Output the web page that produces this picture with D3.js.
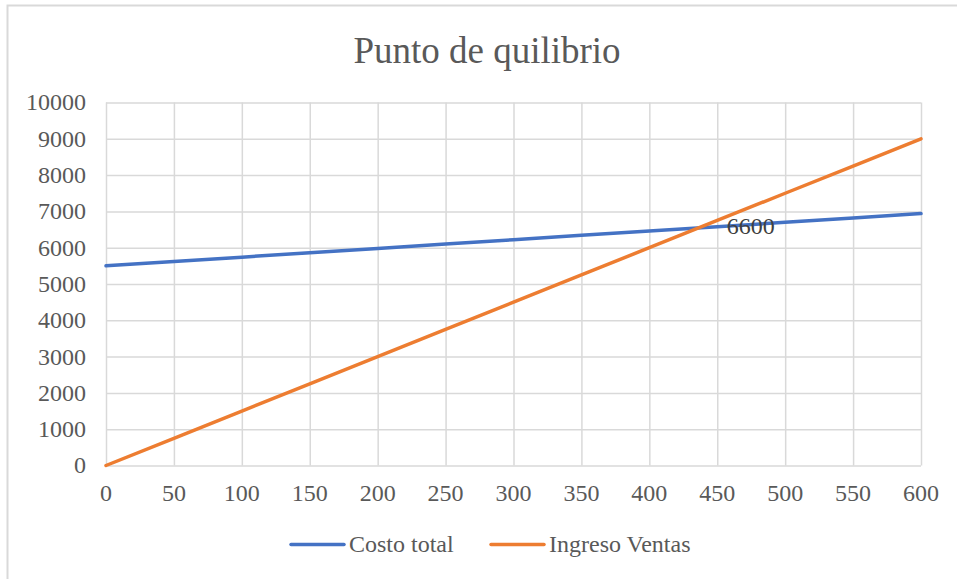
<!DOCTYPE html>
<html>
<head>
<meta charset="utf-8">
<title>Punto de quilibrio</title>
<script src="https://d3js.org/d3.v7.min.js"></script>
<style>
  body { margin: 0; background: #fff; }
  svg { display: block; font-family: "Liberation Serif", "Times New Roman", serif; }
  .grid line { stroke: #d9d9d9; stroke-width: 1.5px; }
  .grid path { display: none; }
  .tick-label { fill: #595959; font-size: 24px; }
  .serie { fill: none; stroke-width: 3.5px; stroke-linecap: round; }
</style>
</head>
<body>
<script>
// data
var unidades = [0, 50, 100, 150, 200, 250, 300, 350, 400, 450, 500, 550, 600];
var costoTotal = [5500, 5620, 5740, 5860, 5980, 6100, 6220, 6340, 6460, 6580, 6700, 6820, 6940];
var ingresoVentas = [0, 750, 1500, 2250, 3000, 3750, 4500, 5250, 6000, 6750, 7500, 8250, 9000];
var xTicks = [0, 50, 100, 150, 200, 250, 300, 350, 400, 450, 500, 550, 600];
var yTicks = [0, 1000, 2000, 3000, 4000, 5000, 6000, 7000, 8000, 9000, 10000];
var etiqueta = {x: 440, y: 6600, text: "6600"};

var series = [
  {name: "Costo total", color: "#4472c4", values: costoTotal},
  {name: "Ingreso Ventas", color: "#ed7d31", values: ingresoVentas}
];

var W = 957, H = 579;
var plot = {left: 106, right: 921, top: 102.5, bottom: 465.5};

var svg = d3.select("body").append("svg")
    .attr("width", W)
    .attr("height", H);

// chart area border
svg.append("rect")
    .attr("x", 7.5).attr("y", 5.5)
    .attr("width", W).attr("height", H)
    .attr("fill", "#fff")
    .attr("stroke", "#d9d9d9")
    .attr("stroke-width", 2);

var x = d3.scaleLinear().domain([0, 600]).range([plot.left, plot.right]);
var y = d3.scaleLinear().domain([0, 10000]).range([plot.bottom, plot.top]);

// title
svg.append("text")
    .attr("x", (353 + 621) / 2)
    .attr("y", 62.5)
    .attr("text-anchor", "middle")
    .attr("fill", "#595959")
    .style("font-size", "37px")
    .text("Punto de quilibrio");

// vertical gridlines
svg.append("g")
    .attr("class", "grid")
    .attr("transform", "translate(0," + plot.bottom + ")")
    .call(d3.axisBottom(x).tickValues(xTicks).tickSize(-(plot.bottom - plot.top)).tickFormat(""));

// horizontal gridlines
svg.append("g")
    .attr("class", "grid")
    .attr("transform", "translate(" + plot.left + ",0)")
    .call(d3.axisLeft(y).tickValues(yTicks).tickSize(-(plot.right - plot.left)).tickFormat(""));

// tick labels
svg.append("g").selectAll("text")
    .data(yTicks)
    .join("text")
    .attr("class", "tick-label")
    .attr("x", plot.left - 20)
    .attr("y", d => y(d))
    .attr("dy", "0.33em")
    .attr("text-anchor", "end")
    .text(d => d);

svg.append("g").selectAll("text")
    .data(xTicks)
    .join("text")
    .attr("class", "tick-label")
    .attr("x", d => x(d))
    .attr("y", 501)
    .attr("text-anchor", "middle")
    .text(d => d);

// lines
var line = d3.line()
    .x((d, i) => x(unidades[i]))
    .y(d => y(d));

svg.selectAll("path.serie")
    .data(series)
    .join("path")
    .attr("class", "serie")
    .attr("stroke", d => d.color)
    .attr("d", d => line(d.values));

// data label
svg.append("text")
    .attr("x", x(etiqueta.x) + 23)
    .attr("y", y(etiqueta.y))
    .attr("dy", "0.35em")
    .attr("fill", "#404040")
    .style("font-size", "24px")
    .text(etiqueta.text);

// legend
var legendPos = [{line: 291, text: 349}, {line: 491, text: 549}];
var legend = svg.append("g").selectAll("g")
    .data(series)
    .join("g");

legend.append("line")
    .attr("x1", (d, i) => legendPos[i].line)
    .attr("x2", (d, i) => legendPos[i].line + 53)
    .attr("y1", 544.5).attr("y2", 544.5)
    .attr("stroke", d => d.color)
    .attr("stroke-width", 3.5)
    .attr("stroke-linecap", "round");

legend.append("text")
    .attr("class", "tick-label")
    .attr("x", (d, i) => legendPos[i].text)
    .attr("y", 544.5)
    .attr("dy", "0.33em")
    .text(d => d.name);
</script>
</body>
</html>
